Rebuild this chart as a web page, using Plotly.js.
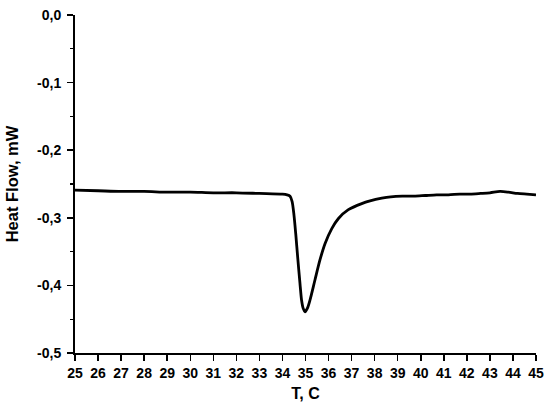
<!DOCTYPE html>
<html><head><meta charset="utf-8">
<script src="https://cdn.plot.ly/plotly-3.0.1.min.js"></script>
<style>html,body{margin:0;padding:0;background:#fff}#c{width:550px;height:410px}</style>
</head><body><div id="c"></div>
<script>
var temperature = [25, 26, 27, 28, 29, 30, 31, 32, 33, 34, 34.2, 34.33, 34.42, 34.5, 34.58, 34.66, 34.76, 34.83, 34.9, 34.98, 35.08, 35.2, 35.41, 35.63, 35.85, 36.14, 36.43, 36.86, 37.44, 37.8, 38.31, 38.7, 39.2, 39.7, 40.2, 40.69, 41.2, 41.7, 42.14, 42.6, 43.0, 43.44, 43.8, 44.2, 44.6, 45.0];
var heatFlow =    [-0.259, -0.260, -0.261, -0.261, -0.262, -0.262, -0.263, -0.263, -0.264, -0.265, -0.266, -0.268, -0.276, -0.296, -0.325, -0.358, -0.397, -0.422, -0.434, -0.439, -0.434, -0.421, -0.392, -0.362, -0.338, -0.316, -0.301, -0.288, -0.279, -0.275, -0.271, -0.269, -0.268, -0.268, -0.267, -0.266, -0.266, -0.265, -0.265, -0.264, -0.263, -0.261, -0.262, -0.264, -0.265, -0.266];
var xTicks = [25,26,27,28,29,30,31,32,33,34,35,36,37,38,39,40,41,42,43,44,45];
var yTickVals = [0, -0.1, -0.2, -0.3, -0.4, -0.5];
var yTickText = ["0,0", "-0,1", "-0,2", "-0,3", "-0,4", "-0,5"];

Plotly.newPlot('c', [{
  x: temperature, y: heatFlow, type: 'scatter', mode: 'lines',
  line: {color: '#000', width: 2.8, shape: 'spline', smoothing: 0.8}
}], {
  width: 550, height: 410,
  margin: {l: 75, r: 14, t: 15, b: 57},
  paper_bgcolor: '#fff', plot_bgcolor: '#fff',
  showlegend: false,
  font: {family: 'Liberation Sans, Arial, sans-serif', color: '#000'},
  xaxis: {
    range: [25, 45], tickvals: xTicks, ticktext: xTicks.map(String),
    ticks: 'outside', ticklen: 6, tickwidth: 1.5, tickcolor: '#000',
    showline: true, linecolor: '#000', linewidth: 2, showgrid: false, zeroline: false,
    tickfont: {size: 14, family: 'Liberation Sans', weight: 'bold'},
    title: {text: '<b>T, C</b>', font: {size: 16}, standoff: 8}
  },
  yaxis: {
    range: [-0.5, 0], tickvals: yTickVals, ticktext: yTickText,
    ticks: 'outside', ticklen: 6, tickwidth: 1.5, tickcolor: '#000',
    ticklabelstandoff: 3,
    minor: {tickvals: [-0.05, -0.15, -0.25, -0.35, -0.45], ticks: 'outside', ticklen: 3, tickwidth: 1.2, tickcolor: '#000'},
    showline: true, linecolor: '#000', linewidth: 2, showgrid: false, zeroline: false,
    tickfont: {size: 14, family: 'Liberation Sans', weight: 'bold'},
    title: {text: '<b>Heat Flow, mW</b>', font: {size: 16.5}, standoff: 14}
  }
}, {staticPlot: true});
</script></body></html>
